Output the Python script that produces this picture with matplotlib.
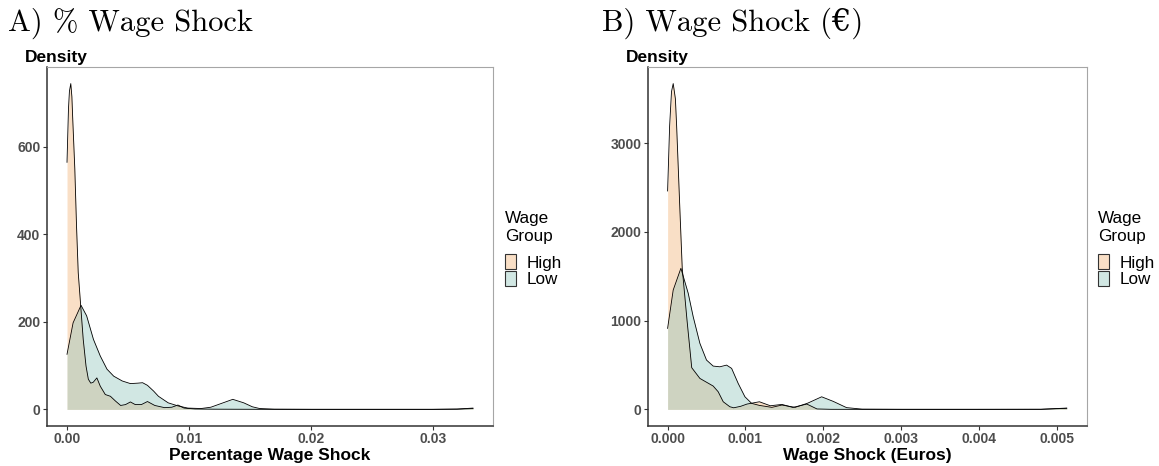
"""
Density of the wage shock by wage group, in percent and in euros.
"""

import matplotlib.pyplot as plt
from matplotlib.colors import to_rgba
from matplotlib.patches import Patch

plt.rcParams["font.family"] = ["Liberation Sans", "DejaVu Sans"]

# Panel A: percentage wage shock
pct_high_x = [0.0, 0.00012, 0.0002, 0.00031, 0.0004, 0.00047, 0.00064, 0.00078,
              0.00092, 0.00112, 0.00133, 0.00156, 0.00175, 0.00195, 0.00215, 0.00245,
              0.00273, 0.00314, 0.00356, 0.00398, 0.0044, 0.0048, 0.0052, 0.0056,
              0.0061, 0.0066, 0.0072, 0.008, 0.0086, 0.0091, 0.0096, 0.0105, 0.012,
              0.016, 0.02, 0.025, 0.03, 0.032, 0.0333]
pct_high_y = [565, 687, 728, 745, 715, 664, 550, 420,
              313, 238, 160, 99, 69, 60, 62, 72,
              53, 34, 30, 19, 9, 11, 17, 11,
              11, 18, 9, 4, 5, 10, 3, 1, 0.5,
              0.2, 0.1, 0.1, 0.1, 0.5, 2]

pct_low_x = [0.0, 0.0005, 0.00115, 0.00161, 0.00217, 0.00273, 0.00328, 0.00383,
             0.00453, 0.0052, 0.0058, 0.0062, 0.0066, 0.0071, 0.0075, 0.0083,
             0.0091, 0.0099, 0.011, 0.0118, 0.0127, 0.0136, 0.0145, 0.0152,
             0.0158, 0.017, 0.02, 0.025, 0.03, 0.032, 0.0333]
pct_low_y = [126, 198, 238, 214, 160, 122, 92, 76,
             65, 59, 60, 61, 55, 42, 30, 15,
             8, 3, 2, 5, 14, 23, 15, 6,
             2, 0.5, 0.2, 0.2, 0.2, 0.8, 3]

pct_ticks = [0.0, 0.01, 0.02, 0.03]
pct_tick_labels = ["0.00", "0.01", "0.02", "0.03"]
pct_yticks = [0, 200, 400, 600]

# Panel B: wage shock in euros
eur_high_x = [0.0, 0.000026, 0.00005, 0.000072, 0.0001, 0.000116, 0.000158, 0.000188,
              0.00025, 0.00031, 0.000415, 0.000586, 0.00065, 0.000715, 0.0008, 0.00085,
              0.00094, 0.00102, 0.00118, 0.00132, 0.00147, 0.00161, 0.00179, 0.00192,
              0.0021, 0.0025, 0.003, 0.004, 0.0048, 0.00513]
eur_high_y = [2461, 3194, 3580, 3671, 3500, 3194, 2247, 1590,
              1000, 470, 349, 263, 199, 86, 30, 18,
              35, 60, 86, 41, 56, 22, 60, 5,
              1, 0.5, 0.5, 0.5, 1, 12]

eur_low_x = [0.0, 0.000072, 0.000171, 0.000265, 0.000329, 0.000415, 0.0005, 0.000586,
             0.000672, 0.000758, 0.000823, 0.000907, 0.000994, 0.00108, 0.00118,
             0.00134, 0.00147, 0.00164, 0.0018, 0.00198, 0.00213, 0.0023, 0.0025,
             0.003, 0.004, 0.0048, 0.00513]
eur_low_y = [913, 1345, 1590, 1308, 1044, 744, 556, 488,
             480, 499, 462, 293, 142, 68, 45,
             23, 49, 23, 70, 142, 90, 20, 3,
             1, 1, 1.5, 15]

eur_ticks = [0.0, 0.001, 0.002, 0.003, 0.004, 0.005]
eur_tick_labels = ["0.000", "0.001", "0.002", "0.003", "0.004", "0.005"]
eur_yticks = [0, 1000, 2000, 3000]

groups = ["High", "Low"]
high_colour = "#F2B071"
low_colour = "#8EC3BB"
fill_alpha = 0.4


def draw_panel(ax, high, low, xticks, xtick_labels, yticks, xlabel):
    """Draws the two group densities, axes styling and legend on one panel."""

    for (xs, ys), colour in [(high, high_colour), (low, low_colour)]:
        ax.fill_between(xs, 0, ys, color=colour, alpha=fill_alpha, linewidth=0)
        ax.plot(xs, ys, color="black", linewidth=0.6)

    ax.margins(x=0.05, y=0.05)
    ax.set_xticks(xticks)
    ax.set_xticklabels(xtick_labels, fontweight="bold")
    ax.set_yticks(yticks)
    ax.set_yticklabels([str(v) for v in yticks], fontweight="bold")
    ax.tick_params(length=3, width=0.8, color="#333333", labelsize=10,
                   labelcolor="#4D4D4D", pad=1.5)

    for side in ["left", "bottom"]:
        ax.spines[side].set_color("#333333")
        ax.spines[side].set_linewidth(1.1)
    for side in ["top", "right"]:
        ax.spines[side].set_color("#A6A6A6")
        ax.spines[side].set_linewidth(0.8)

    ax.set_xlabel(xlabel, fontsize=12.5, fontweight="bold", labelpad=1.5)
    ax.annotate("Density", xy=(0, 1), xycoords="axes fraction", xytext=(-15.6, 4),
                textcoords="offset points", fontsize=12.5, fontweight="bold",
                ha="left", va="baseline")

    # legend title is placed on its own to leave room above the keys
    ax.text(1.026, (425.7 - 241) / 358.4, "Wage\nGroup", transform=ax.transAxes,
            fontsize=12.3, linespacing=1.26, ha="left", va="baseline")
    handles = [
        Patch(facecolor=to_rgba(high_colour, fill_alpha), edgecolor="#333333",
              linewidth=0.8, label=groups[0]),
        Patch(facecolor=to_rgba(low_colour, fill_alpha), edgecolor="#333333",
              linewidth=0.8, label=groups[1]),
    ]
    ax.legend(handles=handles, loc="upper left",
              bbox_to_anchor=(1.026, (425.7 - 254.5) / 358.4), frameon=False,
              fontsize=12.3, handlelength=0.64, handleheight=0.96,
              handletextpad=0.64, labelspacing=0, borderpad=0, borderaxespad=0)


fig = plt.figure(figsize=(11.59, 4.66), dpi=100)
ax_pct = fig.add_axes([0.0403, 0.0865, 0.3853, 0.7691])
ax_eur = fig.add_axes([0.5588, 0.0865, 0.3788, 0.7691])

draw_panel(ax_pct, (pct_high_x, pct_high_y), (pct_low_x, pct_low_y),
           pct_ticks, pct_tick_labels, pct_yticks, "Percentage Wage Shock")
draw_panel(ax_eur, (eur_high_x, eur_high_y), (eur_low_x, eur_low_y),
           eur_ticks, eur_tick_labels, eur_yticks, "Wage Shock (Euros)")

title_font = ["cmr10", "DejaVu Serif"]
fig.text(8 / 1159, 1 - 30.7 / 466, "A) % Wage Shock", family=title_font,
         fontsize=22, va="baseline")
fig.text(601.5 / 1159, 1 - 30.7 / 466, "B) Wage Shock (€)", family=title_font,
         fontsize=22, va="baseline")

fig.savefig("out.png", dpi=100)
plt.close(fig)
